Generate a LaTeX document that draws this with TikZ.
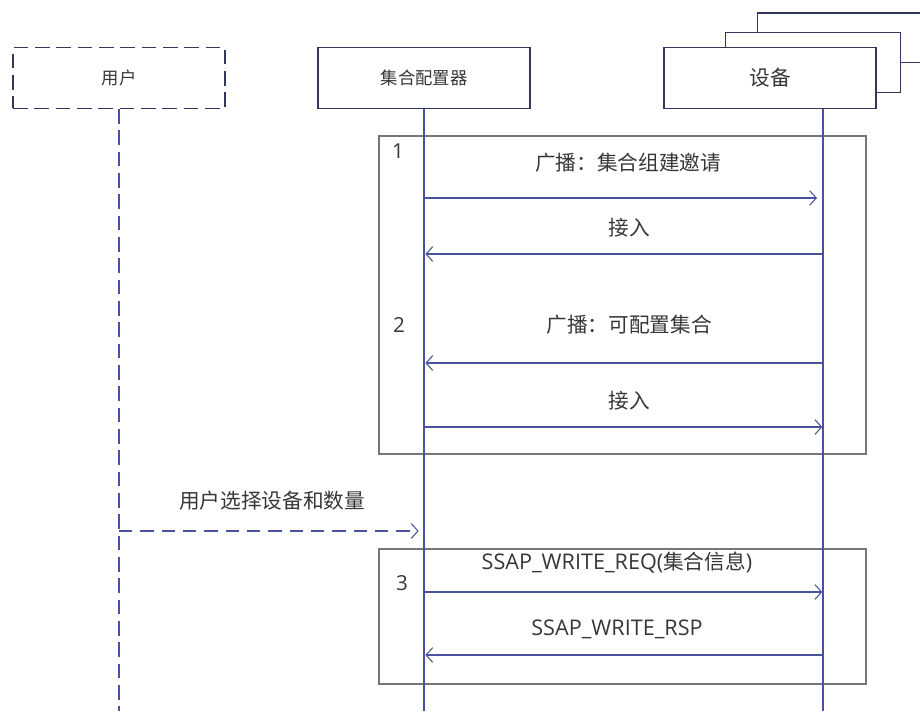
\documentclass[tikz,border=0pt]{standalone}
\usepackage{fontspec}
\setmainfont{Open Sans}
\newfontfamily\cjk{Noto Sans CJK SC}
\usetikzlibrary{arrows.meta}
\definecolor{boxline}{RGB}{50,56,92}
\definecolor{lifeblue}{RGB}{72,82,158}
\definecolor{framegray}{RGB}{118,118,118}
\definecolor{txt}{RGB}{55,55,55}
\begin{document}
\begin{tikzpicture}[x=0.75pt,y=-0.75pt,
  actor/.style={draw=boxline,line width=1.1pt,fill=white,inner sep=0pt,text=txt,
    minimum width=159pt,minimum height=45.5pt,font=\cjk\fontsize{13}{15}\selectfont},
  stackbox/.style={draw=boxline,line width=1.1pt,fill=white,inner sep=0pt,anchor=north west},
  grp/.style={draw=framegray,line width=1.5pt,inner sep=0pt,anchor=north west},
  life/.style={draw=lifeblue,line width=0.8pt},
  msg/.style={draw=lifeblue,line width=0.8pt,-{Straight Barb[length=5pt,width=11pt,line width=0.8pt]}},
  lbl/.style={text=txt,inner sep=0pt,font=\cjk\fontsize{15.5}{18}\selectfont},
  lat/.style={text=txt,inner sep=0pt,font=\fontsize{16.2}{19}\selectfont},
  num/.style={text=txt,inner sep=0pt,font=\fontsize{15.5}{18}\selectfont}]
\useasboundingbox (0,0) rectangle (920,711);
\clip (0,0) rectangle (920,711);

% actors
\node[actor,dashed,dash pattern=on 11pt off 5pt] (user) at (119,78) {用户};
\node[actor] (cfg) at (424,78) {集合配置器};
\node[stackbox,minimum width=160pt,minimum height=37pt] (dev3) at (757,12.3) {};
\node[stackbox,minimum width=131.25pt,minimum height=45pt] (dev2) at (725,31.7) {};
\node[actor,font=\cjk\fontsize{15.5}{18}\selectfont] (dev) at (770,78) {设备};

% group frames
\node[grp,minimum width=365.25pt,minimum height=238.5pt] (g1) at (378,134.5) {};
\node[grp,minimum width=365.25pt,minimum height=101.25pt] (g3) at (378,548) {};

% lifeline ends
\coordinate (userend) at (119,711);
\coordinate (cfgend) at (424,711);
\coordinate (devend) at (823,711);
\draw[life,dashed,dash pattern=on 11pt off 5pt] (user.south) -- (userend);
\draw[life] (cfg.south) -- (cfgend);
\draw[life] (dev.south -| devend) -- (devend);

% message points
\coordinate (c1) at (424,198); \coordinate (d1) at (823,198);
\coordinate (c2) at (424,254); \coordinate (d2) at (823,254);
\coordinate (c3) at (424,363); \coordinate (d3) at (823,363);
\coordinate (c4) at (424,427); \coordinate (d4) at (823,427);
\coordinate (u5) at (119,531); \coordinate (c5) at (424,531);
\coordinate (c6) at (424,592); \coordinate (d6) at (823,592);
\coordinate (c7) at (424,655); \coordinate (d7) at (823,655);

\draw[msg,shorten >=4.5pt] (c1) -- (d1);
\draw[msg,shorten >=1pt] (d2) -- (c2);
\draw[msg,shorten >=1pt] (d3) -- (c3);
\draw[msg,shorten >=0.5pt] (c4) -- (d4);
\draw[msg,dashed,dash pattern=on 10pt off 6pt,shorten >=4pt] (u5) -- (c5);
\draw[msg,shorten >=0.5pt] (c6) -- (d6);
\draw[msg,shorten >=1pt] (d7) -- (c7);

% labels
\node[num] (n1) at (398,151) {1};
\node[num] (n2) at (399,325) {2};
\node[num] (n3) at (402,583) {3};
\node[lbl] (l1) at (628,163) {广播：集合组建邀请};
\node[lbl] (l2) at (629,228) {接入};
\node[lbl] (l3) at (629,325) {广播：可配置集合};
\node[lbl] (l4) at (629,401) {接入};
\node[lbl] (l5) at (272,501) {用户选择设备和数量};
\node[lat] (l6) at (617,563) {SSAP\_WRITE\_REQ({\cjk\fontsize{15.5}{18}\selectfont 集合信息})};
\node[lat] (l7) at (617,629) {SSAP\_WRITE\_RSP};
\end{tikzpicture}
\end{document}
